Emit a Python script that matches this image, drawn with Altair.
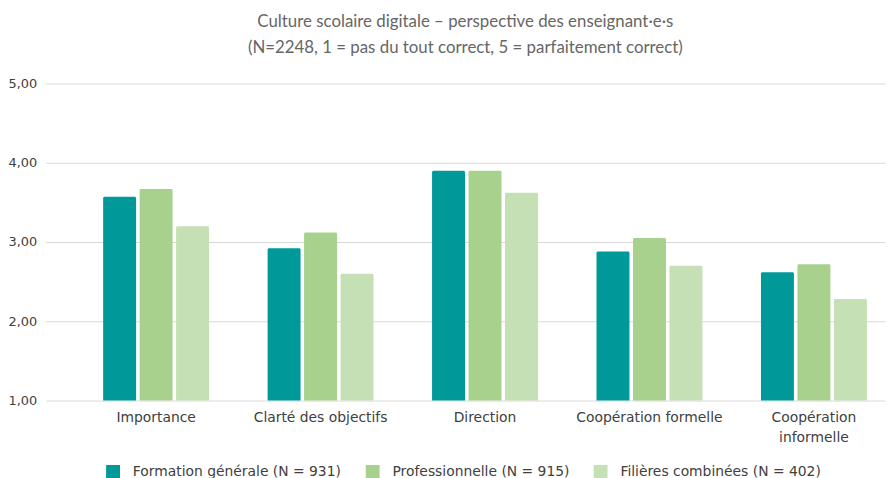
import altair as alt
import pandas as pd

categories = ["Importance", "Clarté des objectifs", "Direction", "Coopération formelle", "Coopération informelle"]
series = ["Formation générale (N = 931)", "Professionnelle (N = 915)", "Filières combinées (N = 402)"]
values_fg = [3.57, 2.92, 3.90, 2.88, 2.62]
values_pro = [3.67, 3.12, 3.90, 3.05, 2.72]
values_fc = [3.20, 2.60, 3.62, 2.70, 2.28]
colors = ["#009999", "#A9D18E", "#C5E0B4"]
y_ticks = [1, 2, 3, 4, 5]

rows = []
for s, vals in zip(series, [values_fg, values_pro, values_fc]):
    for c, v in zip(categories, vals):
        rows.append({"category": c, "series": s, "value": v})
df = pd.DataFrame(rows)

TFONT = "Lato"
FONT = "DejaVu Sans"

chart = alt.Chart(df).mark_bar(cornerRadiusTopLeft=1.5, cornerRadiusTopRight=1.5).encode(
    x=alt.X("category:N", sort=categories, title=None,
            scale=alt.Scale(paddingInner=0.356, paddingOuter=0.23, align=0.76),
            axis=alt.Axis(labelAngle=0, domain=False, ticks=False, labelPadding=10,
                          labelFontSize=14, labelColor="#404040", labelFont=FONT,
                          labelLineHeight=20, labelLimit=300,
                          labelExpr="datum.label == 'Coopération informelle' ? ['Coopération', 'informelle'] : datum.label")),
    xOffset=alt.XOffset("series:N", sort=series, scale=alt.Scale(paddingInner=0.096)),
    y=alt.Y("value:Q", title=None,
            scale=alt.Scale(domain=[1, 5], zero=False, nice=False),
            axis=alt.Axis(values=y_ticks, domain=False, ticks=False, grid=True,
                          gridColor="#d9d9d9", gridWidth=1, labelPadding=9,
                          labelFontSize=13, labelColor="#404040", labelFont=FONT,
                          labelExpr="replace(format(datum.value, '.2f'), '.', ',')")),
    y2=alt.datum(1),
    color=alt.Color("series:N", sort=series,
                    scale=alt.Scale(domain=series, range=colors),
                    legend=alt.Legend(title=None, orient="none", direction="horizontal",
                                      legendX=61, legendY=385,
                                      symbolType="square", symbolSize=196, symbolStrokeWidth=0,
                                      labelFontSize=14, labelColor="#404040", labelFont=FONT,
                                      labelOffset=13, columnPadding=24, labelLimit=400)),
).properties(
    width=847,
    height=320,
    title=alt.TitleParams(
        text=["Culture scolaire digitale – perspective des enseignant·e·s",
              "(N=2248, 1 = pas du tout correct, 5 = parfaitement correct)"],
        anchor="middle", fontSize=17, font=TFONT, fontWeight="normal",
        color="#666666", lineHeight=26, offset=21),
    autosize=alt.AutoSizeParams(type="none"),
    padding={"left": 38, "top": 74, "right": 3, "bottom": 76},
).configure_view(stroke=None)

chart.save("out.html", embed_options={"renderer": "svg", "actions": False})
